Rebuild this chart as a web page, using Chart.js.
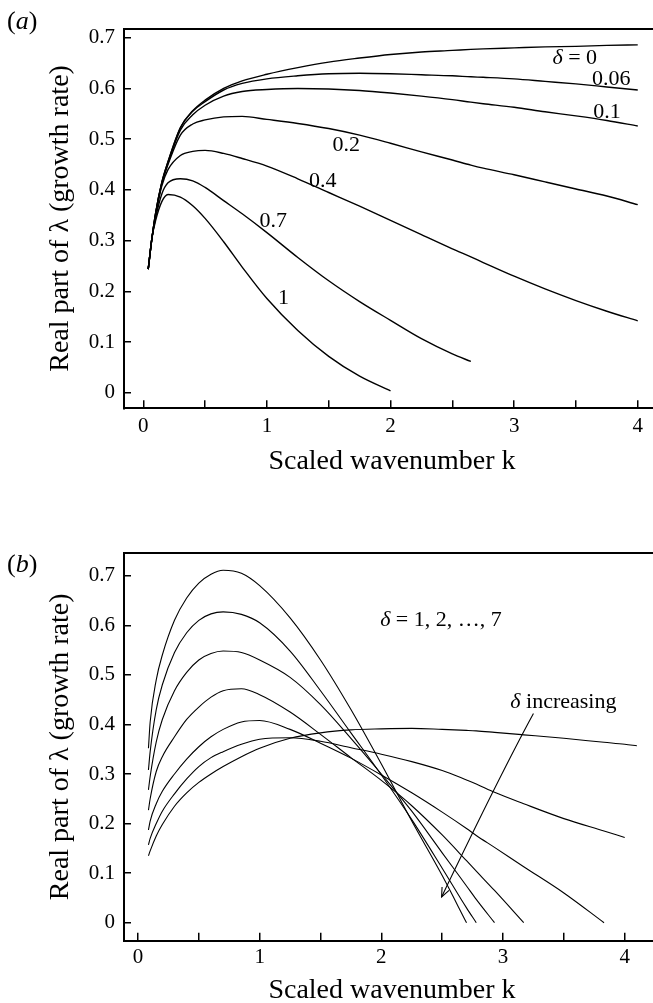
<!DOCTYPE html>
<html>
<head>
<meta charset="utf-8">
<script src="https://cdn.jsdelivr.net/npm/chart.js@4.4.0/dist/chart.umd.min.js"></script>
<style>
  html, body { margin: 0; padding: 0; background: #fff; overflow: hidden; width: 653px; height: 1003px; }
  .panel { position: absolute; left: 0; }
  .panel canvas { display: block; }
  #panelA { top: 0; }
  #panelB { top: 500px; }
</style>
</head>
<body>
<div class="panel" id="panelA"><canvas id="chartA" width="665" height="479"></canvas></div>
<div class="panel" id="panelB"><canvas id="chartB" width="665" height="510"></canvas></div>
<script>
// tick values shared by both panels
const xTicks = [0, 0.5, 1, 1.5, 2, 2.5, 3, 3.5, 4];
const yTicks = [0, 0.1, 0.2, 0.3, 0.4, 0.5, 0.6, 0.7];

// (a) scaled wavenumber k and growth rate for delta = 0 ... 1
const kA = [0.04, 0.07, 0.1, 0.15, 0.2, 0.3, 0.4, 0.5, 0.65, 0.8, 1.0, 1.25, 1.5, 1.75, 2.0, 2.25, 2.5, 2.65, 2.75, 3.0, 3.25, 3.5, 3.75, 4.0];
const rateD0   = [0.244, 0.305, 0.355, 0.415, 0.456, 0.523, 0.556, 0.577, 0.6, 0.615, 0.628, 0.641, 0.652, 0.66, 0.667, 0.672, 0.675, 0.677, 0.678, 0.68, 0.682, 0.683, 0.685, 0.686];
const rateD006 = [0.244, 0.305, 0.355, 0.415, 0.455, 0.522, 0.555, 0.574, 0.597, 0.61, 0.619, 0.625, 0.629, 0.63, 0.629, 0.627, 0.625, 0.623, 0.622, 0.619, 0.614, 0.609, 0.603, 0.597];
const rateD01  = [0.244, 0.305, 0.354, 0.414, 0.453, 0.518, 0.548, 0.567, 0.585, 0.594, 0.598, 0.6, 0.599, 0.596, 0.591, 0.585, 0.578, 0.573, 0.57, 0.563, 0.554, 0.546, 0.537, 0.526];
const rateD02  = [0.244, 0.305, 0.352, 0.412, 0.45, 0.508, 0.53, 0.538, 0.544, 0.545, 0.539, 0.531, 0.521, 0.508, 0.492, 0.475, 0.459, 0.449, 0.443, 0.43, 0.416, 0.402, 0.388, 0.371];
const rateD04  = [0.244, 0.305, 0.35, 0.408, 0.44, 0.468, 0.476, 0.478, 0.472, 0.462, 0.447, 0.422, 0.395, 0.368, 0.34, 0.312, 0.284, 0.268, 0.257, 0.23, 0.205, 0.182, 0.161, 0.142];
const rateD07  = [0.244, 0.305, 0.345, 0.392, 0.414, 0.422, 0.418, 0.405, 0.379, 0.353, 0.316, 0.267, 0.221, 0.18, 0.143, 0.107, 0.077, 0.062, null, null, null, null, null, null];
const rateD1   = [0.244, 0.305, 0.34, 0.377, 0.391, 0.386, 0.369, 0.344, 0.298, 0.248, 0.186, 0.123, 0.072, 0.033, 0.004, null, null, null, null, null, null, null, null, null];

// (b) growth rate for delta = 1, 2, ..., 7
const kB = [0.086, 0.1, 0.15, 0.2, 0.3, 0.4, 0.5, 0.6, 0.7, 0.85, 1.0, 1.25, 1.5, 1.75, 2.0, 2.25, 2.5, 2.7, 2.78, 2.93, 3.17, 3.5, 3.83, 4.0, 4.1];
const rateB7 = [0.352, 0.405, 0.49, 0.54, 0.61, 0.655, 0.685, 0.703, 0.711, 0.705, 0.68, 0.615, 0.53, 0.43, 0.32, 0.205, 0.095, 0, null, null, null, null, null, null, null];
const rateB6 = [0.308, 0.345, 0.43, 0.48, 0.545, 0.585, 0.61, 0.623, 0.627, 0.622, 0.605, 0.548, 0.468, 0.383, 0.298, 0.208, 0.11, 0.03, 0, null, null, null, null, null, null];
const rateB5 = [0.268, 0.295, 0.365, 0.41, 0.468, 0.505, 0.53, 0.543, 0.548, 0.545, 0.53, 0.495, 0.44, 0.372, 0.3, 0.225, 0.141, 0.074, 0.047, 0, null, null, null, null, null];
const rateB4 = [0.227, 0.25, 0.305, 0.335, 0.375, 0.41, 0.435, 0.455, 0.468, 0.472, 0.46, 0.425, 0.38, 0.333, 0.287, 0.236, 0.177, 0.125, 0.104, 0.065, 0, null, null, null, null];
const rateB3 = [0.187, 0.205, 0.24, 0.265, 0.3, 0.33, 0.355, 0.375, 0.39, 0.405, 0.408, 0.39, 0.362, 0.332, 0.298, 0.262, 0.223, 0.19, 0.176, 0.152, 0.113, 0.06, 0, null, null];
const rateB2 = [0.157, 0.17, 0.2, 0.225, 0.26, 0.29, 0.315, 0.333, 0.345, 0.36, 0.37, 0.373, 0.366, 0.353, 0.34, 0.325, 0.307, 0.288, 0.28, 0.263, 0.24, 0.21, 0.185, 0.172, null];
const rateB1 = [0.135, 0.145, 0.175, 0.198, 0.235, 0.262, 0.283, 0.3, 0.315, 0.335, 0.352, 0.372, 0.383, 0.389, 0.391, 0.392, 0.39, 0.388, 0.387, 0.384, 0.379, 0.372, 0.364, 0.36, 0.357];

// curve labels, placed in data coordinates (k, rate)
const notesA = [
  { delta: true, text: ' = 0', k: 3.31, v: 0.659 },
  { text: '0.06', k: 3.63, v: 0.619 },
  { text: '0.1', k: 3.64, v: 0.554 },
  { text: '0.2', k: 1.53, v: 0.488 },
  { text: '0.4', k: 1.34, v: 0.418 },
  { text: '0.7', k: 0.94, v: 0.339 },
  { text: '1', k: 1.09, v: 0.187 }
];
const notesB = [
  { delta: true, text: ' = 1, 2, \u2026, 7', k: 1.99, v: 0.611 },
  { delta: true, text: ' increasing', k: 3.06, v: 0.445 }
];

const serif = '"Liberation Serif", "Times New Roman", serif';

function series(ks, rates, width) {
  return {
    data: ks.map((k, i) => ({ x: k, y: rates[i] })).filter(p => p.y !== null),
    borderColor: '#000',
    borderWidth: width,
    pointRadius: 0,
    fill: false,
    cubicInterpolationMode: 'monotone'
  };
}

const notesPlugin = {
  id: 'notes',
  afterDatasetsDraw(chart, args, opts) {
    const ctx = chart.ctx;
    const x = chart.scales.x;
    const y = chart.scales.y;
    ctx.save();
    ctx.fillStyle = '#000';
    ctx.textBaseline = 'middle';
    ctx.textAlign = 'left';

    // panel tag like (a)
    ctx.font = '26px ' + serif;
    let tx = 7;
    ctx.fillText('(', tx, opts.tagY);
    tx += ctx.measureText('(').width;
    ctx.font = 'italic 26px ' + serif;
    ctx.fillText(opts.tag, tx, opts.tagY);
    tx += ctx.measureText(opts.tag).width;
    ctx.font = '26px ' + serif;
    ctx.fillText(')', tx, opts.tagY);

    opts.notes.forEach(n => {
      let px = x.getPixelForValue(n.k);
      const py = y.getPixelForValue(n.v);
      if (n.delta) {
        ctx.font = 'italic 22px ' + serif;
        ctx.fillText('\u03b4', px, py);
        px += ctx.measureText('\u03b4').width;
      }
      ctx.font = '22px ' + serif;
      ctx.fillText(n.text, px, py);
    });

    if (opts.arrow) {
      const a = opts.arrow;
      const p0 = [x.getPixelForValue(a.from[0]), y.getPixelForValue(a.from[1])];
      const pc = [x.getPixelForValue(a.ctrl[0]), y.getPixelForValue(a.ctrl[1])];
      const p1 = [x.getPixelForValue(a.to[0]), y.getPixelForValue(a.to[1])];
      ctx.strokeStyle = '#000';
      ctx.lineWidth = 1.1;
      ctx.beginPath();
      ctx.moveTo(p0[0], p0[1]);
      ctx.quadraticCurveTo(pc[0], pc[1], p1[0], p1[1]);
      ctx.stroke();
      const ang = Math.atan2(p1[1] - pc[1], p1[0] - pc[0]);
      ctx.beginPath();
      ctx.moveTo(p1[0] - 10 * Math.cos(ang - 0.4), p1[1] - 10 * Math.sin(ang - 0.4));
      ctx.lineTo(p1[0], p1[1]);
      ctx.lineTo(p1[0] - 10 * Math.cos(ang + 0.4), p1[1] - 10 * Math.sin(ang + 0.4));
      ctx.stroke();
    }
    ctx.restore();
  }
};

function makeChart(id, datasets, r) {
  return new Chart(document.getElementById(id), {
    type: 'line',
    data: { datasets: datasets },
    plugins: [notesPlugin],
    options: {
      responsive: false,
      animation: false,
      devicePixelRatio: 1,
      layout: { padding: { top: r.padTop, right: 5, left: 0, bottom: 0 } },
      plugins: {
        legend: { display: false },
        tooltip: { enabled: false },
        notes: { tag: r.tag, tagY: r.tagY, notes: r.notes, arrow: r.arrow }
      },
      scales: {
        x: {
          type: 'linear',
          min: r.xMin,
          max: r.xMax,
          afterBuildTicks: s => { s.ticks = xTicks.map(v => ({ value: v })); },
          afterFit: s => { s.height = r.xAxisHeight; },
          ticks: {
            color: '#000',
            font: { family: serif, size: 21 },
            padding: r.xTickPad,
            maxRotation: 0,
            autoSkip: false,
            callback: v => Number.isInteger(v) ? String(v) : ''
          },
          grid: { drawOnChartArea: false, tickLength: -8, color: '#000', lineWidth: 1.5 },
          border: { color: '#000', width: 2 },
          title: {
            display: true,
            text: 'Scaled wavenumber k',
            color: '#000',
            font: { family: serif, size: 28 },
            padding: { top: 0, bottom: r.titlePad }
          }
        },
        xTop: {
          type: 'linear',
          position: 'top',
          display: true,
          ticks: { display: false },
          grid: { drawOnChartArea: false, drawTicks: false },
          border: { color: '#000', width: 2 },
          afterFit: s => { s.height = 0; }
        },
        y: {
          type: 'linear',
          min: r.yMin,
          max: r.yMax,
          afterBuildTicks: s => { s.ticks = yTicks.map(v => ({ value: v })); },
          afterFit: s => { s.width = 124; },
          ticks: {
            color: '#000',
            font: { family: serif, size: 21 },
            padding: 16,
            callback: v => v === 0 ? '0' : v.toFixed(1)
          },
          grid: { drawOnChartArea: false, tickLength: -7, color: '#000', lineWidth: 1.5 },
          border: { color: '#000', width: 2 },
          title: {
            display: true,
            text: 'Real part of \u03bb (growth rate)',
            color: '#000',
            font: { family: serif, size: 28 },
            padding: { top: 44, bottom: 0 }
          }
        }
      }
    }
  });
}

makeChart('chartA', [
  series(kA, rateD0, 1.4),
  series(kA, rateD006, 1.4),
  series(kA, rateD01, 1.4),
  series(kA, rateD02, 1.4),
  series(kA, rateD04, 1.4),
  series(kA, rateD07, 1.4),
  series(kA, rateD1, 1.4)
], {
  tag: 'a', tagY: 22, notes: notesA, arrow: null,
  padTop: 24, xAxisHeight: 70.7, xTickPad: 14, titlePad: 1,
  xMin: -0.156, xMax: 4.18, yMin: -0.0303, yMax: 0.718
});

makeChart('chartB', [
  series(kB, rateB1, 1.1),
  series(kB, rateB2, 1.1),
  series(kB, rateB3, 1.1),
  series(kB, rateB4, 1.1),
  series(kB, rateB5, 1.1),
  series(kB, rateB6, 1.1),
  series(kB, rateB7, 1.1)
], {
  tag: 'b', tagY: 65, notes: notesB,
  arrow: { from: [3.25, 0.422], ctrl: [2.99, 0.305], to: [2.495, 0.052] },
  padTop: 53, xAxisHeight: 69.3, xTickPad: 12, titlePad: 3,
  xMin: -0.115, xMax: 4.29, yMin: -0.0363, yMax: 0.7458
});
</script>
</body>
</html>
